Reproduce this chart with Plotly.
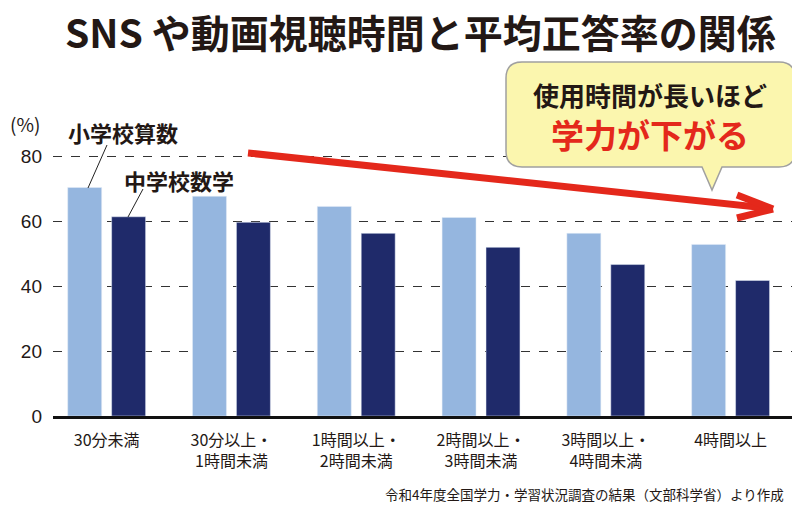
import plotly.graph_objects as go

categories = ["30分未満", "30分以上・<br>1時間未満", "1時間以上・<br>2時間未満",
              "2時間以上・<br>3時間未満", "3時間以上・<br>4時間未満", "4時間以上"]
elementary_math = [70.3, 67.6, 64.5, 61.1, 56.2, 52.8]
junior_math = [61.3, 59.6, 56.2, 51.9, 46.6, 41.7]
y_ticks = [0, 20, 40, 60, 80]

W, H = 800, 516
OFF = 8  # page body margin offset compensation
ML, MR, MT, MB = 53 - OFF, 15, 60 - OFF, 108
PW, PH = W - ML - MR, H - MT - MB

def px(x):
    return (x - OFF - ML) / PW

def py(y):
    return (H - MB - (y - OFF)) / PH

LIGHT = "#95b6df"
NAVY = "#1f2a6a"
RED = "#e4281b"
FONT = "Noto Sans CJK JP"
INK = "#231815"

xs = list(range(len(categories)))

fig = go.Figure()
fig.add_trace(go.Bar(x=xs, y=elementary_math, marker_color=LIGHT, name="小学校算数"))
fig.add_trace(go.Bar(x=xs, y=junior_math, marker_color=NAVY, name="中学校数学"))

shapes = []
annotations = []

# red trend arrow
arrow = dict(type="line", xref="paper", yref="paper", line=dict(color=RED, width=7))
shapes.append(dict(arrow, x0=px(248), y0=py(153), x1=px(771), y1=py(208.5)))
shapes.append(dict(arrow, x0=px(737), y0=py(195), x1=px(773), y1=py(209)))
shapes.append(dict(arrow, x0=px(737), y0=py(218), x1=px(773), y1=py(209)))

# callout bubble
x0b, x1b, y0b, y1b, r = 506, 795, 62, 167, 16
path = (f"M {px(x0b + r)},{py(y0b)} L {px(x1b - r)},{py(y0b)} "
        f"Q {px(x1b)},{py(y0b)} {px(x1b)},{py(y0b + r)} "
        f"L {px(x1b)},{py(y1b - r)} Q {px(x1b)},{py(y1b)} {px(x1b - r)},{py(y1b)} "
        f"L {px(722)},{py(y1b)} L {px(712)},{py(190)} L {px(702)},{py(y1b)} "
        f"L {px(x0b + r)},{py(y1b)} Q {px(x0b)},{py(y1b)} {px(x0b)},{py(y1b - r)} "
        f"L {px(x0b)},{py(y0b + r)} Q {px(x0b)},{py(y0b)} {px(x0b + r)},{py(y0b)} Z")
shapes.append(dict(type="path", xref="paper", yref="paper", path=path,
                   fillcolor="#fbf6ae", line=dict(color="#a0a0a0", width=1.5)))

# leader lines
lead = dict(type="line", xref="paper", yref="paper", line=dict(color="#222222", width=1))
shapes.append(dict(lead, x0=px(88), y0=py(188), x1=px(107), y1=py(145)))
shapes.append(dict(lead, x0=px(128), y0=py(217), x1=px(143), y1=py(189)))

def text(x, y, s, size, color=INK, bold=True, xanchor="center", family=FONT, **kw):
    annotations.append(dict(x=px(x), y=py(y), xref="paper", yref="paper",
                            text=(f"<b>{s}</b>" if bold else s),
                            showarrow=False, xanchor=xanchor, yanchor="middle",
                            font=dict(family=family, size=size, color=color), **kw))

text(123, 132, "小学校算数", 22)
text(179, 180, "中学校数学", 22)
text(25, 123, "(%)", 19, bold=False)
text(650, 95, "使用時間が長いほど", 26)
text(650, 134, "学力が下がる", 33, color=RED)
text(786, 494, "令和4年度全国学力・学習状況調査の結果（文部科学省）より作成", 13.5,
     bold=False, xanchor="right")

# title
text(420, 31, "SNS や動画視聴時間と平均正答率の関係", 39, height=44, valign="middle")

fig.update_layout(
    width=W, height=H,
    margin=dict(l=ML, r=MR, t=MT, b=MB),
    paper_bgcolor="white", plot_bgcolor="white",
    showlegend=False,
    barmode="group", bargap=0.296, bargroupgap=0.227,
    font=dict(family=FONT, color=INK),
    shapes=shapes, annotations=annotations,
)
fig.update_xaxes(range=[-0.43, 5.5], tickvals=xs, ticktext=categories, showgrid=False,
                 showline=True, linecolor="#111111", linewidth=3, ticks="",
                 ticklabelstandoff=8,
                 tickfont=dict(family=FONT, size=16, color=INK), fixedrange=True)
fig.update_yaxes(range=[0, PH / 3.25], tickvals=y_ticks, showgrid=True, gridcolor="#333333",
                 griddash="dash", gridwidth=1, zeroline=False, showline=False, ticks="",
                 ticklabelstandoff=10,
                 tickfont=dict(family="Liberation Sans Narrow, Liberation Sans, sans-serif",
                               size=19, color=INK))

fig.write_html("out.html")
